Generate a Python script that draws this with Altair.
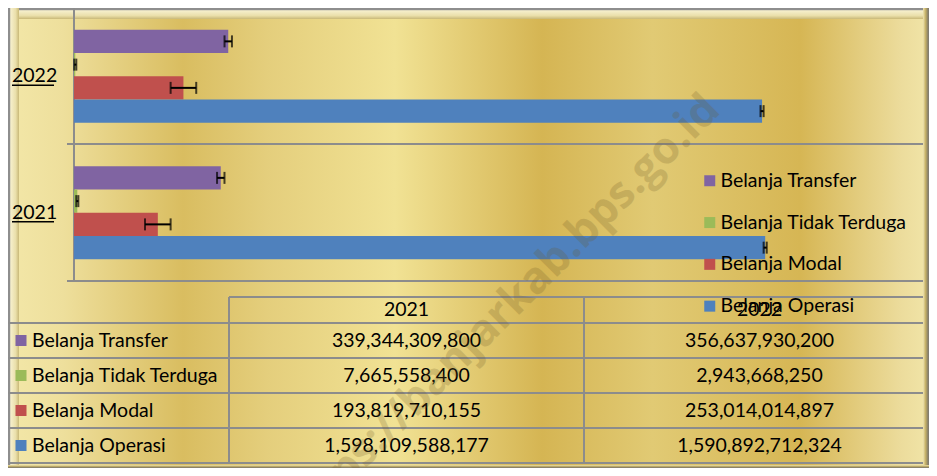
import altair as alt
import pandas as pd

# ---------------- data ----------------
years = ["2021", "2022"]
categories = ["Belanja Transfer", "Belanja Tidak Terduga", "Belanja Modal", "Belanja Operasi"]
colors = ["#8064A2", "#9BBB59", "#C0504D", "#4F81BD"]
transfer = [339344309800, 356637930200]
tidak_terduga = [7665558400, 2943668250]
modal = [193819710155, 253014014897]
operasi = [1598109588177, 1590892712324]
# half-width of the error whiskers, per category
error_margin = [8.6e9, 2.4e9, 29.6e9, 3.6e9]
watermark = "https://banjarkab.bps.go.id"

series = [transfer, tidak_terduga, modal, operasi]
rows = []
for cat, vals, err in zip(categories, series, error_margin):
    for yr, v in zip(years, vals):
        rows.append({"year": yr, "cat": cat, "value": v, "lo": v - err, "hi": v + err})
df = pd.DataFrame(rows)
df_years = pd.DataFrame({"year": years})
df_cats = pd.DataFrame({"cat": categories})
one = pd.DataFrame({"k": [0]})

# ---------------- layout ----------------
W, H = 921, 460
RIGHT = W - 6
FONT = "Lato"
FS = 19.5
GRID = "#8C8C8C"

x_bar = alt.Scale(domain=[0, 2000e9], range=[66, 931], nice=False, zero=True)
y_year = alt.Scale(domain=["2022", "2021"], range=[0, 273], paddingInner=0, paddingOuter=0)
y_off = alt.Scale(domain=categories, paddingInner=0, paddingOuter=0.935)
col_scale = alt.Scale(type="point", domain=years, range=[398.5, 751.5], padding=0)
row_scale = alt.Scale(type="point", domain=categories, range=[332.5, 437.5], padding=0)
color_scale = alt.Scale(domain=categories, range=colors)


def grad(stops, horizontal=True):
    return alt.Gradient(
        gradient="linear",
        stops=[alt.GradientStop(offset=o, color=c) for o, c in stops],
        x1=0, y1=0, x2=1 if horizontal else 0, y2=0 if horizontal else 1,
    )


def box(x1, x2, y1, y2, fill):
    return alt.Chart(one).mark_rect(fill=fill, strokeWidth=0).encode(
        x=alt.value(x1), x2=alt.value(x2), y=alt.value(y1), y2=alt.value(y2)
    )


def hline(x1, x2, y, color=GRID, w=2):
    return alt.Chart(one).mark_rule(color=color, strokeWidth=w).encode(
        x=alt.value(x1), x2=alt.value(x2), y=alt.value(y)
    )


def vline(x, y1, y2, color=GRID, w=2):
    return alt.Chart(one).mark_rule(color=color, strokeWidth=w).encode(
        x=alt.value(x), y=alt.value(y1), y2=alt.value(y2)
    )


background = box(0, W, 0, H, grad([
    (0.00, "#F3E7A8"), (0.06, "#EEDF9C"), (0.19, "#D9BD60"), (0.28, "#E4CE7C"),
    (0.42, "#F1E294"), (0.58, "#D5B553"), (0.70, "#E1CA74"), (0.86, "#D6B654"),
    (0.97, "#ECDC9C"), (1.00, "#F1E5A8"),
]))

bevel_in = [(0.0, "#8E8E8E"), (0.15, "#8E8E8E"), (0.25, "#F6EFCC"), (0.7, "#EADFAA"), (1.0, "#C9B978")]
bevel_out = [(0.0, "#EFE4B2"), (0.4, "#C8B46A"), (0.8, "#8E8466"), (1.0, "#7A7A7A")]
frame = [
    box(0, W, 0, 11, grad(bevel_in, horizontal=False)),
    box(0, 11, 0, H, grad(bevel_in, horizontal=True)),
    box(RIGHT, W, 0, H, grad(bevel_out, horizontal=True)),
    box(0, W, H - 3, H, grad(bevel_out, horizontal=False)),
]

lines = [
    vline(66, 0, 273),
    hline(59, RIGHT, 136),
    hline(59, RIGHT, 273),
    hline(221, RIGHT, 289),
    hline(0, RIGHT, 315),
    hline(0, RIGHT, 350),
    hline(0, RIGHT, 385),
    hline(0, RIGHT, 420),
    hline(0, RIGHT, 455),
    vline(221, 289, 455),
    vline(576, 289, 455),
]

bars = alt.Chart(df).mark_bar().encode(
    x=alt.X("value:Q", scale=x_bar, axis=None),
    y=alt.Y("year:N", scale=y_year, axis=None),
    yOffset=alt.YOffset("cat:N", scale=y_off, sort=categories),
    color=alt.Color(
        "cat:N", scale=color_scale,
        legend=alt.Legend(
            title=None, orient="none", legendX=692, legendY=163, padding=0,
            symbolType="square", symbolSize=121, symbolStrokeWidth=0,
            labelFont=FONT, labelFontSize=FS, labelColor="black", labelLimit=400,
            labelOffset=1, rowPadding=20.8,
        ),
    ),
)

err_rule = alt.Chart(df).mark_rule(color="black", strokeWidth=2).encode(
    x=alt.X("lo:Q", scale=x_bar, axis=None),
    x2="hi:Q",
    y=alt.Y("year:N", scale=y_year, axis=None),
    yOffset=alt.YOffset("cat:N", scale=y_off, sort=categories),
)
err_caps = [
    alt.Chart(df).mark_tick(color="black", thickness=2, size=12, orient="vertical").encode(
        x=alt.X(f"{f}:Q", scale=x_bar, axis=None),
        y=alt.Y("year:N", scale=y_year, axis=None),
        yOffset=alt.YOffset("cat:N", scale=y_off, sort=categories),
    )
    for f in ("lo", "hi")
]

year_labels = alt.Chart(df_years).mark_text(
    align="left", baseline="middle", font=FONT, fontSize=FS, color="black"
).encode(
    x=alt.value(4), y=alt.Y("year:N", scale=y_year, axis=None), text="year:N"
)
year_underline = alt.Chart(df_years).mark_rule(color="black", strokeWidth=1.5, yOffset=9).encode(
    x=alt.value(4), x2=alt.value(46), y=alt.Y("year:N", scale=y_year, axis=None)
)

table_header = alt.Chart(df_years).mark_text(
    align="center", baseline="middle", font=FONT, fontSize=FS, color="black"
).encode(
    x=alt.X("year:N", scale=col_scale, axis=None), y=alt.value(302), text="year:N"
)
table_values = alt.Chart(df).mark_text(
    align="center", baseline="middle", font=FONT, fontSize=FS, color="black"
).encode(
    x=alt.X("year:N", scale=col_scale, axis=None),
    y=alt.Y("cat:N", scale=row_scale, axis=None),
    text=alt.Text("value:Q", format=",.0f"),
)
row_keys = alt.Chart(df_cats).mark_square(size=121, opacity=1).encode(
    x=alt.value(13),
    y=alt.Y("cat:N", scale=row_scale, axis=None),
    color=alt.Color("cat:N", scale=color_scale, legend=None),
)
row_labels = alt.Chart(df_cats).mark_text(
    align="left", baseline="middle", font=FONT, fontSize=FS, color="black"
).encode(
    x=alt.value(24), y=alt.Y("cat:N", scale=row_scale, axis=None), text="cat:N"
)

wm = alt.Chart(one).mark_text(
    align="right", baseline="alphabetic", font="Open Sans", fontWeight="bold",
    fontSize=44, angle=315, color="#6E5A28", opacity=0.22,
).encode(x=alt.value(714), y=alt.value(104), text=alt.value(watermark))

chart = alt.layer(
    background, *frame, *lines, bars, err_rule, *err_caps,
    year_labels, year_underline, table_header, table_values, row_keys, row_labels, wm,
).resolve_scale(
    x="independent", y="independent", color="independent"
).properties(
    width=W, height=H, padding=0, autosize=alt.AutoSizeParams(type="none")
).configure_view(strokeWidth=0)

chart.save("out.html", embed_options={"renderer": "svg", "actions": False})
